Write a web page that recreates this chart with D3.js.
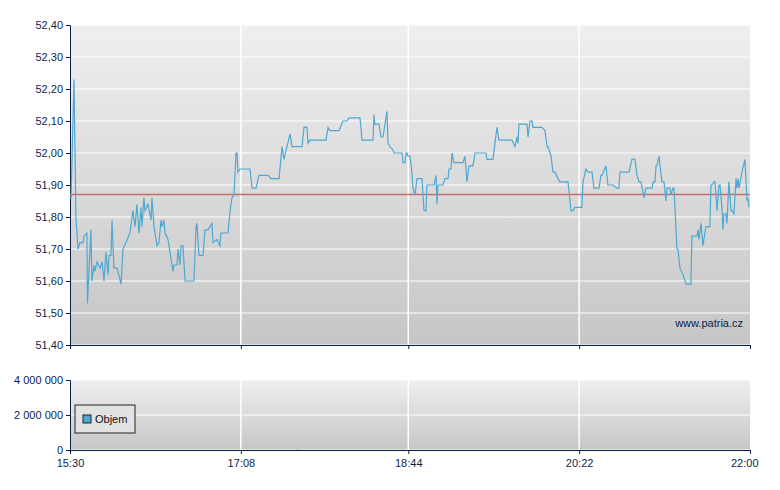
<!DOCTYPE html>
<html><head><meta charset="utf-8">
<script src="https://cdn.jsdelivr.net/npm/d3@7"></script>
<style>body{margin:0;background:#fff}svg{font-family:Arial,"Liberation Sans",sans-serif}</style>
</head><body>
<script>
// minutes since 15:30 and the price at that moment
const minutes = [0,0.6,2.3,3.4,4.6,5.7,7.5,8.0,9.7,10.0,12.0,12.6,13.8,14.3,15.5,17.2,18.4,19.5,20.6,21.8,22.4,23.5,24.1,25.2,27.0,29.3,30.4,32.1,34.4,36.1,37.3,38.4,39.6,40.7,41.3,42.4,43.0,44.7,46.5,47.0,48.2,49.9,51.0,52.2,52.8,53.9,54.5,56.2,59.1,59.6,61.4,61.9,63.1,63.7,64.8,66.0,71.1,72.3,72.8,74.0,76.3,77.4,79.1,81.4,82.0,84.3,86.0,86.6,90.6,91.8,92.9,94.1,95.2,95.8,96.3,97.5,98.6,103.2,104.4,106.7,108.4,113.6,115.3,119.9,121.6,122.7,126.2,127.3,133.1,134.2,135.9,136.5,137.6,
138.8,146.8,148.0,149.1,154.3,156.6,158.9,160.0,166.3,167.5,173.8,174.3,174.9,177.2,178.4,179.5,181.8,182.4,183.5,185.2,185.8,190.4,191.0,192.1,192.7,193.3,193.8,195.0,196.1,196.7,197.9,199.0,201.9,203.0,204.2,204.7,208.8,209.9,210.5,211.0,213.9,215.1,216.8,217.4,218.5,219.1,220.2,225.4,226.5,227.7,228.8,231.1,232.3,238.6,239.1,242.6,243.7,244.9,246.0,253.5,255.2,256.4,256.9,257.5,262.1,262.7,263.8,265.0,265.5,270.7,272.4,273.6,274.1,275.9,277.0,278.1,279.9,
281.0,285.6,286.2,287.3,288.5,289.6,293.6,294.2,295.9,297.1,299.4,300.5,303.4,304.5,305.1,307.4,308.5,311.4,313.7,314.8,315.4,320.6,322.3,324.0,325.2,326.3,327.5,329.2,330.3,333.8,334.4,335.5,336.1,336.6,337.8,339.5,340.7,341.8,342.4,344.1,344.7,345.8,346.4,348.1,348.7,349.8,351.6,353.3,356.1,356.7,359.6,360.2,360.7,361.9,363.0,364.7,367.0,367.6,368.2,369.3,369.9,371.1,372.2,372.8,373.9,374.5,375.1,376.2,376.8,377.9,379.1,379.7,380.8,382.0,382.5,383.1,383.7,385.4,387.1,388.3,388.8,389.4];
const prices = [51.86,51.86,52.23,51.80,51.70,51.72,51.72,51.74,51.75,51.53,51.76,51.60,51.65,51.63,51.66,51.64,51.66,51.60,51.69,51.62,51.68,51.68,51.79,51.64,51.64,51.59,51.70,51.72,51.75,51.82,51.77,51.84,51.75,51.83,51.77,51.86,51.82,51.84,51.79,51.86,51.77,51.71,51.72,51.79,51.77,51.79,51.75,51.73,51.63,51.65,51.65,51.70,51.65,51.71,51.71,51.60,51.60,51.77,51.78,51.68,51.68,51.76,51.76,51.78,51.72,51.73,51.71,51.75,51.75,51.82,51.86,51.87,52.00,52.00,51.94,51.95,51.95,51.95,51.89,51.89,51.93,51.93,51.92,51.92,52.02,51.98,52.06,52.02,52.02,52.08,52.08,52.03,52.04,
52.04,52.04,52.08,52.07,52.07,52.10,52.10,52.11,52.11,52.04,52.04,52.12,52.09,52.09,52.05,52.05,52.13,52.03,52.02,52.01,52.00,52.00,51.97,51.97,52.00,52.00,51.99,51.99,51.94,51.89,51.87,51.92,51.92,51.82,51.82,51.90,51.90,51.93,51.84,51.90,51.90,51.92,51.92,51.95,51.95,52.00,51.97,51.97,51.99,51.91,51.96,51.96,52.00,52.00,51.98,51.98,52.03,52.08,52.04,52.04,52.02,52.05,52.03,52.09,52.09,52.05,52.10,52.10,52.08,52.08,52.07,52.02,52.02,51.99,51.94,51.94,51.92,
51.91,51.91,51.88,51.82,51.82,51.83,51.83,51.91,51.95,51.94,51.94,51.89,51.89,51.93,51.93,51.96,51.90,51.90,51.89,51.89,51.94,51.94,51.98,51.98,51.93,51.91,51.91,51.86,51.89,51.89,51.91,51.91,51.96,51.96,51.99,51.91,51.91,51.85,51.89,51.89,51.87,51.89,51.89,51.70,51.70,51.64,51.62,51.59,51.59,51.74,51.74,51.76,51.73,51.78,51.71,51.77,51.77,51.90,51.90,51.91,51.91,51.82,51.90,51.90,51.83,51.76,51.81,51.81,51.78,51.91,51.82,51.82,51.81,51.92,51.89,51.92,51.89,51.94,51.98,51.85,51.86,51.83];
const refPrice = 51.87;
const priceTicks = [51.4,51.5,51.6,51.7,51.8,51.9,52.0,52.1,52.2,52.3,52.4];
const volTicks = [0,2000000,4000000];
const timeTicks = [0,98,194,292,390];
const timeLabels = ["15:30","17:08","18:44","20:22","22:00"];
const volMinutes = [130];
const volumes = [30000];

const W = 780, H = 490, L = 70, R = 750;
const axisCol = "#0c1f4a";
const svg = d3.select("body").append("svg").attr("width", W).attr("height", H);

const grad = svg.append("defs").append("linearGradient").attr("id","bg").attr("x1",0).attr("y1",0).attr("x2",0).attr("y2",1);
grad.append("stop").attr("offset","0%").attr("stop-color","#efefef");
grad.append("stop").attr("offset","100%").attr("stop-color","#c6c6c6");

const x = d3.scaleLinear().domain([0,390]).range([L,R]);
const y = d3.scaleLinear().domain([51.4,52.4]).range([345,25]);
const yv = d3.scaleLinear().domain([0,4000000]).range([450,380]);
const comma = d => d3.format(".2f")(d).replace(".", ",");
const spaced = d => d3.format(",")(d).replace(/,/g, " ");

function panel(yScale, ticks, fmt, top, bottom) {
  svg.append("rect").attr("x",L).attr("y",top).attr("width",R-L).attr("height",bottom-top).attr("fill","url(#bg)");
  svg.append("g").selectAll("line").data(ticks).join("line")
    .attr("x1",L).attr("x2",R).attr("y1",d=>yScale(d)).attr("y2",d=>yScale(d))
    .attr("stroke","#fff").attr("stroke-width",1);
  svg.append("g").selectAll("line").data(timeTicks.slice(1,-1)).join("line")
    .attr("x1",d=>x(d)).attr("x2",d=>x(d)).attr("y1",top).attr("y2",bottom)
    .attr("stroke","#fff").attr("stroke-width",1.5);
  const ax = svg.append("g").attr("transform",`translate(${L},0)`)
    .call(d3.axisLeft(yScale).tickValues(ticks).tickFormat(fmt).tickSize(4).tickPadding(3));
  ax.select(".domain").attr("stroke",axisCol);
  ax.selectAll("line").attr("stroke",axisCol);
  ax.selectAll("text").attr("fill",axisCol).attr("font-size",11);
  const bx = svg.append("g").attr("transform",`translate(0,${bottom})`)
    .call(d3.axisBottom(x).tickValues(timeTicks).tickFormat((d,i)=>timeLabels[i]).tickSize(4).tickSizeOuter(0));
  bx.select(".domain").attr("stroke",axisCol);
  bx.selectAll("line").attr("stroke",axisCol);
  bx.selectAll("text").attr("fill",axisCol).attr("font-size",11).attr("dy","0.9em");
  return bx;
}

const px = panel(y, priceTicks, comma, 25, 345);
px.selectAll("text").remove();
const vx = panel(yv, volTicks, spaced, 380, 450);
vx.selectAll(".tick:last-of-type text").attr("text-anchor","end").attr("dx",8);

svg.append("line").attr("x1",L).attr("x2",R).attr("y1",y(refPrice)).attr("y2",y(refPrice))
  .attr("stroke","#c8585e").attr("stroke-width",1.5).attr("opacity",0.85);

svg.append("path").datum(minutes.map((m,i)=>[m,prices[i]]))
  .attr("d", d3.line().x(d=>x(d[0])).y(d=>y(d[1])))
  .attr("fill","none").attr("stroke","#4ea8d2").attr("stroke-width",1.2);

svg.selectAll(".vol").data(volumes).join("rect").attr("class","vol")
  .attr("x",(d,i)=>x(volMinutes[i])).attr("width",1).attr("y",d=>yv(d)).attr("height",d=>450-yv(d)).attr("fill","#4ea8d2");

svg.append("text").attr("x",743).attr("y",327).attr("text-anchor","end").attr("font-size",11)
  .attr("fill","#0c1f4a").text("www.patria.cz");

const lg = svg.append("g").attr("transform","translate(75,405)");
lg.append("rect").attr("width",60).attr("height",28).attr("fill","#e2e2e2").attr("stroke","#222");
lg.append("rect").attr("x",8).attr("y",10).attr("width",8).attr("height",8).attr("fill","#4ea8d2").attr("stroke","#222");
lg.append("text").attr("x",20).attr("y",18).attr("font-size",11).attr("fill","#111").text("Objem");
</script>
</body></html>
